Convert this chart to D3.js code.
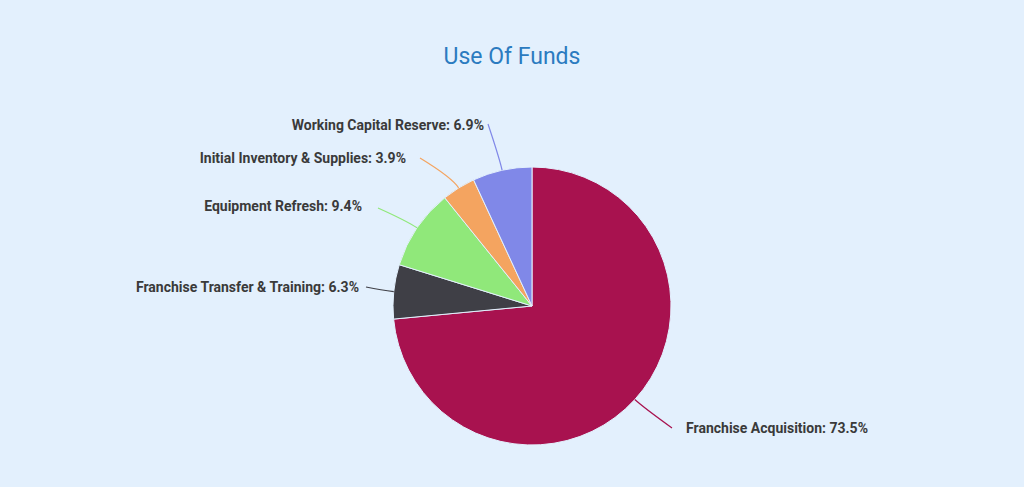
<!DOCTYPE html>
<html><head><meta charset="utf-8">
<script src="https://cdn.jsdelivr.net/npm/d3@7"></script>
<style>body{margin:0;background:#E3F0FD;}svg{display:block;font-family:Roboto,"Noto Sans",sans-serif;}</style>
</head><body>
<svg id="c" width="1024" height="487"></svg>
<script>
const categories = ["Franchise Acquisition","Franchise Transfer & Training","Equipment Refresh","Initial Inventory & Supplies","Working Capital Reserve"];
const values = [73.5, 6.3, 9.4, 3.9, 6.9];
const colors = ["#A8124F","#3F3F46","#90E87A","#F4A460","#8088E8"];
// label layout: [lineEndX, lineEndY, textX, textY, anchor]
const labelLayout = [
  [672,428,686,433,"start"],
  [366,287,359,292,"end"],
  [378,208,362,211,"end"],
  [420,158,406,163,"end"],
  [488,124,484,130,"end"]
];
const svg = d3.select("#c");
svg.append("text").attr("x",512).attr("y",64).attr("text-anchor","middle")
  .attr("font-size",23).attr("fill","#2B7BC0").text("Use Of Funds");
const cx=532, cy=306, r=139;
const g = svg.append("g").attr("transform",`translate(${cx},${cy})`);
const pie = d3.pie().sort(null).value(d=>d)(values);
const arc = d3.arc().innerRadius(0).outerRadius(r);
g.selectAll("path").data(pie).join("path").attr("d",arc)
  .attr("fill",(d,i)=>colors[i]).attr("stroke","#E3F0FD").attr("stroke-width",1);
pie.forEach((d,i)=>{
  const a=(d.startAngle+d.endAngle)/2;
  const sx=Math.sin(a)*r, sy=-Math.cos(a)*r;
  const L=labelLayout[i];
  const ex=L[0]-cx, ey=L[1]-cy;
  const mx=Math.sin(a)*(r+12), my=-Math.cos(a)*(r+12);
  g.append("path").attr("d",`M${sx},${sy}Q${mx},${my} ${ex},${ey}`)
    .attr("fill","none").attr("stroke",colors[i]).attr("stroke-width",1.2);
  svg.append("text").attr("x",L[2]).attr("y",L[3]).attr("text-anchor",L[4])
    .attr("font-size",14).attr("font-weight",700).attr("fill","#3A3A3A")
    .text(`${categories[i]}: ${values[i]}%`);
});
</script></body></html>
